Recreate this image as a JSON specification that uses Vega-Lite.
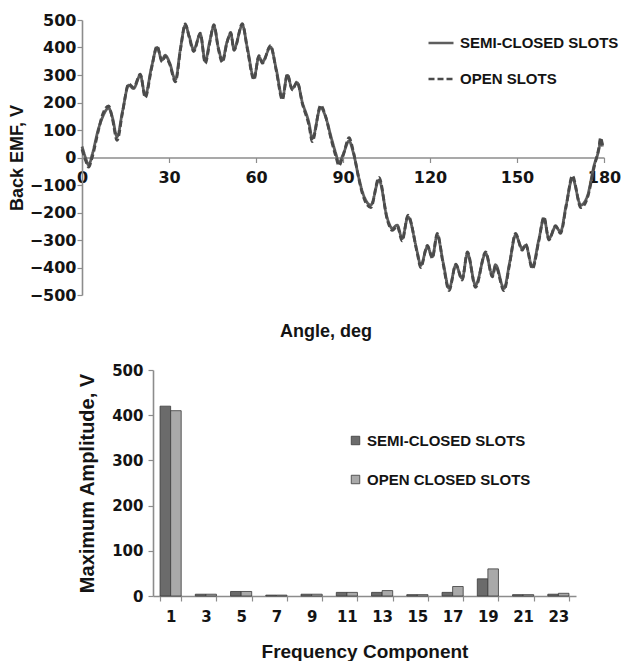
{
  "$schema": "https://vega.github.io/schema/vega-lite/v6.json",
  "background": "white",
  "padding": {"left": 0, "top": 12, "right": 0, "bottom": 0},
  "config": {
    "view": {"stroke": null},
    "axis": {
      "grid": false,
      "domainColor": "#8c8c8c",
      "domainWidth": 1.6,
      "tickColor": "#8c8c8c",
      "tickWidth": 1.2,
      "labelFont": "DejaVu Sans",
      "labelFontWeight": "bold",
      "labelColor": "#141414",
      "titleFont": "Liberation Sans",
      "titleFontWeight": "bold",
      "titleColor": "#141414"
    },
    "legend": {
      "labelFont": "Liberation Sans",
      "labelFontWeight": "bold",
      "labelColor": "#141414",
      "labelFontSize": 15,
      "padding": 0,
      "labelLimit": 300
    }
  },
  "resolve": {
    "scale": {"color": "independent", "strokeDash": "independent"},
    "legend": {"color": "independent", "strokeDash": "independent"}
  },
  "spacing": 22,
  "vconcat": [
    {
      "spacing": 6,
      "hconcat": [
        {
          "width": 2,
          "height": 275,
          "data": {"values": []},
          "mark": "point",
          "encoding": {}
        },
        {
          "width": 522,
          "height": 275,
          "title": {
            "text": "Angle, deg",
            "orient": "bottom",
            "font": "Liberation Sans",
            "fontSize": 18,
            "fontWeight": "bold",
            "color": "#141414",
            "dx": -17,
            "offset": 20
          },
          "data": {
            "values": [
              {"angle": 0, "emf": 40, "slot": "SEMI-CLOSED SLOTS"},
              {"angle": 1.2, "emf": 0, "slot": "SEMI-CLOSED SLOTS"},
              {"angle": 2.3, "emf": -28, "slot": "SEMI-CLOSED SLOTS"},
              {"angle": 3.5, "emf": 10, "slot": "SEMI-CLOSED SLOTS"},
              {"angle": 5.7, "emf": 105, "slot": "SEMI-CLOSED SLOTS"},
              {"angle": 6.9, "emf": 142, "slot": "SEMI-CLOSED SLOTS"},
              {"angle": 9.2, "emf": 180, "slot": "SEMI-CLOSED SLOTS"},
              {"angle": 10.5, "emf": 145, "slot": "SEMI-CLOSED SLOTS"},
              {"angle": 12.1, "emf": 75, "slot": "SEMI-CLOSED SLOTS"},
              {"angle": 14, "emf": 170, "slot": "SEMI-CLOSED SLOTS"},
              {"angle": 16.1, "emf": 263, "slot": "SEMI-CLOSED SLOTS"},
              {"angle": 17.8, "emf": 251, "slot": "SEMI-CLOSED SLOTS"},
              {"angle": 20.1, "emf": 299, "slot": "SEMI-CLOSED SLOTS"},
              {"angle": 21.8, "emf": 227, "slot": "SEMI-CLOSED SLOTS"},
              {"angle": 24, "emf": 330, "slot": "SEMI-CLOSED SLOTS"},
              {"angle": 25.9, "emf": 400, "slot": "SEMI-CLOSED SLOTS"},
              {"angle": 27.6, "emf": 354, "slot": "SEMI-CLOSED SLOTS"},
              {"angle": 28.7, "emf": 372, "slot": "SEMI-CLOSED SLOTS"},
              {"angle": 30.2, "emf": 345, "slot": "SEMI-CLOSED SLOTS"},
              {"angle": 32.2, "emf": 283, "slot": "SEMI-CLOSED SLOTS"},
              {"angle": 34, "emf": 400, "slot": "SEMI-CLOSED SLOTS"},
              {"angle": 35.6, "emf": 481, "slot": "SEMI-CLOSED SLOTS"},
              {"angle": 37, "emf": 440, "slot": "SEMI-CLOSED SLOTS"},
              {"angle": 38.5, "emf": 392, "slot": "SEMI-CLOSED SLOTS"},
              {"angle": 40.8, "emf": 448, "slot": "SEMI-CLOSED SLOTS"},
              {"angle": 42.5, "emf": 350, "slot": "SEMI-CLOSED SLOTS"},
              {"angle": 44, "emf": 420, "slot": "SEMI-CLOSED SLOTS"},
              {"angle": 45.5, "emf": 477, "slot": "SEMI-CLOSED SLOTS"},
              {"angle": 47, "emf": 400, "slot": "SEMI-CLOSED SLOTS"},
              {"angle": 48.4, "emf": 354, "slot": "SEMI-CLOSED SLOTS"},
              {"angle": 50, "emf": 420, "slot": "SEMI-CLOSED SLOTS"},
              {"angle": 51.3, "emf": 450, "slot": "SEMI-CLOSED SLOTS"},
              {"angle": 52.4, "emf": 395, "slot": "SEMI-CLOSED SLOTS"},
              {"angle": 55.3, "emf": 481, "slot": "SEMI-CLOSED SLOTS"},
              {"angle": 57, "emf": 400, "slot": "SEMI-CLOSED SLOTS"},
              {"angle": 59.3, "emf": 290, "slot": "SEMI-CLOSED SLOTS"},
              {"angle": 61, "emf": 366, "slot": "SEMI-CLOSED SLOTS"},
              {"angle": 62.2, "emf": 348, "slot": "SEMI-CLOSED SLOTS"},
              {"angle": 65, "emf": 402, "slot": "SEMI-CLOSED SLOTS"},
              {"angle": 67, "emf": 320, "slot": "SEMI-CLOSED SLOTS"},
              {"angle": 69.1, "emf": 218, "slot": "SEMI-CLOSED SLOTS"},
              {"angle": 70.8, "emf": 299, "slot": "SEMI-CLOSED SLOTS"},
              {"angle": 72.5, "emf": 251, "slot": "SEMI-CLOSED SLOTS"},
              {"angle": 74.2, "emf": 272, "slot": "SEMI-CLOSED SLOTS"},
              {"angle": 76, "emf": 200, "slot": "SEMI-CLOSED SLOTS"},
              {"angle": 78.3, "emf": 124, "slot": "SEMI-CLOSED SLOTS"},
              {"angle": 79.4, "emf": 69, "slot": "SEMI-CLOSED SLOTS"},
              {"angle": 82.3, "emf": 182, "slot": "SEMI-CLOSED SLOTS"},
              {"angle": 84, "emf": 148, "slot": "SEMI-CLOSED SLOTS"},
              {"angle": 86, "emf": 70, "slot": "SEMI-CLOSED SLOTS"},
              {"angle": 87.5, "emf": 15, "slot": "SEMI-CLOSED SLOTS"},
              {"angle": 88.6, "emf": -20, "slot": "SEMI-CLOSED SLOTS"},
              {"angle": 90, "emf": 10, "slot": "SEMI-CLOSED SLOTS"},
              {"angle": 92.1, "emf": 60, "slot": "SEMI-CLOSED SLOTS"},
              {"angle": 93.5, "emf": 20, "slot": "SEMI-CLOSED SLOTS"},
              {"angle": 95.5, "emf": -76, "slot": "SEMI-CLOSED SLOTS"},
              {"angle": 96.7, "emf": -125, "slot": "SEMI-CLOSED SLOTS"},
              {"angle": 99.6, "emf": -173, "slot": "SEMI-CLOSED SLOTS"},
              {"angle": 102.4, "emf": -82, "slot": "SEMI-CLOSED SLOTS"},
              {"angle": 105.3, "emf": -222, "slot": "SEMI-CLOSED SLOTS"},
              {"angle": 107, "emf": -258, "slot": "SEMI-CLOSED SLOTS"},
              {"angle": 108.7, "emf": -246, "slot": "SEMI-CLOSED SLOTS"},
              {"angle": 110.4, "emf": -295, "slot": "SEMI-CLOSED SLOTS"},
              {"angle": 112.4, "emf": -216, "slot": "SEMI-CLOSED SLOTS"},
              {"angle": 115.6, "emf": -343, "slot": "SEMI-CLOSED SLOTS"},
              {"angle": 116.8, "emf": -392, "slot": "SEMI-CLOSED SLOTS"},
              {"angle": 119.1, "emf": -325, "slot": "SEMI-CLOSED SLOTS"},
              {"angle": 120.8, "emf": -361, "slot": "SEMI-CLOSED SLOTS"},
              {"angle": 122.5, "emf": -282, "slot": "SEMI-CLOSED SLOTS"},
              {"angle": 124.5, "emf": -380, "slot": "SEMI-CLOSED SLOTS"},
              {"angle": 126.6, "emf": -476, "slot": "SEMI-CLOSED SLOTS"},
              {"angle": 128.9, "emf": -392, "slot": "SEMI-CLOSED SLOTS"},
              {"angle": 131.1, "emf": -440, "slot": "SEMI-CLOSED SLOTS"},
              {"angle": 132.9, "emf": -349, "slot": "SEMI-CLOSED SLOTS"},
              {"angle": 135.7, "emf": -464, "slot": "SEMI-CLOSED SLOTS"},
              {"angle": 139.2, "emf": -349, "slot": "SEMI-CLOSED SLOTS"},
              {"angle": 141.5, "emf": -428, "slot": "SEMI-CLOSED SLOTS"},
              {"angle": 142.6, "emf": -390, "slot": "SEMI-CLOSED SLOTS"},
              {"angle": 145.5, "emf": -476, "slot": "SEMI-CLOSED SLOTS"},
              {"angle": 147.5, "emf": -380, "slot": "SEMI-CLOSED SLOTS"},
              {"angle": 149.5, "emf": -282, "slot": "SEMI-CLOSED SLOTS"},
              {"angle": 151.8, "emf": -331, "slot": "SEMI-CLOSED SLOTS"},
              {"angle": 153, "emf": -319, "slot": "SEMI-CLOSED SLOTS"},
              {"angle": 155.3, "emf": -398, "slot": "SEMI-CLOSED SLOTS"},
              {"angle": 157.5, "emf": -300, "slot": "SEMI-CLOSED SLOTS"},
              {"angle": 159.3, "emf": -222, "slot": "SEMI-CLOSED SLOTS"},
              {"angle": 161, "emf": -295, "slot": "SEMI-CLOSED SLOTS"},
              {"angle": 163.3, "emf": -252, "slot": "SEMI-CLOSED SLOTS"},
              {"angle": 165, "emf": -270, "slot": "SEMI-CLOSED SLOTS"},
              {"angle": 167, "emf": -170, "slot": "SEMI-CLOSED SLOTS"},
              {"angle": 169.1, "emf": -76, "slot": "SEMI-CLOSED SLOTS"},
              {"angle": 172, "emf": -173, "slot": "SEMI-CLOSED SLOTS"},
              {"angle": 174.2, "emf": -143, "slot": "SEMI-CLOSED SLOTS"},
              {"angle": 176.6, "emf": -28, "slot": "SEMI-CLOSED SLOTS"},
              {"angle": 178.3, "emf": 33, "slot": "SEMI-CLOSED SLOTS"},
              {"angle": 178.8, "emf": 63, "slot": "SEMI-CLOSED SLOTS"},
              {"angle": 179.5, "emf": 40, "slot": "SEMI-CLOSED SLOTS"},
              {"angle": 0, "emf": 30, "slot": "OPEN SLOTS"},
              {"angle": 1.2, "emf": -10, "slot": "OPEN SLOTS"},
              {"angle": 2.3, "emf": -35, "slot": "OPEN SLOTS"},
              {"angle": 3.5, "emf": 0, "slot": "OPEN SLOTS"},
              {"angle": 5.7, "emf": 100, "slot": "OPEN SLOTS"},
              {"angle": 6.9, "emf": 150, "slot": "OPEN SLOTS"},
              {"angle": 9.2, "emf": 188, "slot": "OPEN SLOTS"},
              {"angle": 10.5, "emf": 140, "slot": "OPEN SLOTS"},
              {"angle": 12.1, "emf": 62, "slot": "OPEN SLOTS"},
              {"angle": 14, "emf": 165, "slot": "OPEN SLOTS"},
              {"angle": 16.1, "emf": 268, "slot": "OPEN SLOTS"},
              {"angle": 17.8, "emf": 255, "slot": "OPEN SLOTS"},
              {"angle": 20.1, "emf": 303, "slot": "OPEN SLOTS"},
              {"angle": 21.8, "emf": 218, "slot": "OPEN SLOTS"},
              {"angle": 24, "emf": 325, "slot": "OPEN SLOTS"},
              {"angle": 25.9, "emf": 405, "slot": "OPEN SLOTS"},
              {"angle": 27.6, "emf": 348, "slot": "OPEN SLOTS"},
              {"angle": 28.7, "emf": 368, "slot": "OPEN SLOTS"},
              {"angle": 30.2, "emf": 340, "slot": "OPEN SLOTS"},
              {"angle": 32.2, "emf": 275, "slot": "OPEN SLOTS"},
              {"angle": 34, "emf": 395, "slot": "OPEN SLOTS"},
              {"angle": 35.6, "emf": 486, "slot": "OPEN SLOTS"},
              {"angle": 37, "emf": 436, "slot": "OPEN SLOTS"},
              {"angle": 38.5, "emf": 385, "slot": "OPEN SLOTS"},
              {"angle": 40.8, "emf": 452, "slot": "OPEN SLOTS"},
              {"angle": 42.5, "emf": 342, "slot": "OPEN SLOTS"},
              {"angle": 44, "emf": 415, "slot": "OPEN SLOTS"},
              {"angle": 45.5, "emf": 483, "slot": "OPEN SLOTS"},
              {"angle": 47, "emf": 395, "slot": "OPEN SLOTS"},
              {"angle": 48.4, "emf": 346, "slot": "OPEN SLOTS"},
              {"angle": 50, "emf": 418, "slot": "OPEN SLOTS"},
              {"angle": 51.3, "emf": 455, "slot": "OPEN SLOTS"},
              {"angle": 52.4, "emf": 390, "slot": "OPEN SLOTS"},
              {"angle": 55.3, "emf": 487, "slot": "OPEN SLOTS"},
              {"angle": 57, "emf": 395, "slot": "OPEN SLOTS"},
              {"angle": 59.3, "emf": 283, "slot": "OPEN SLOTS"},
              {"angle": 61, "emf": 370, "slot": "OPEN SLOTS"},
              {"angle": 62.2, "emf": 343, "slot": "OPEN SLOTS"},
              {"angle": 65, "emf": 407, "slot": "OPEN SLOTS"},
              {"angle": 67, "emf": 315, "slot": "OPEN SLOTS"},
              {"angle": 69.1, "emf": 210, "slot": "OPEN SLOTS"},
              {"angle": 70.8, "emf": 303, "slot": "OPEN SLOTS"},
              {"angle": 72.5, "emf": 246, "slot": "OPEN SLOTS"},
              {"angle": 74.2, "emf": 276, "slot": "OPEN SLOTS"},
              {"angle": 76, "emf": 195, "slot": "OPEN SLOTS"},
              {"angle": 78.3, "emf": 115, "slot": "OPEN SLOTS"},
              {"angle": 79.4, "emf": 58, "slot": "OPEN SLOTS"},
              {"angle": 82.3, "emf": 190, "slot": "OPEN SLOTS"},
              {"angle": 84, "emf": 150, "slot": "OPEN SLOTS"},
              {"angle": 86, "emf": 62, "slot": "OPEN SLOTS"},
              {"angle": 87.5, "emf": 5, "slot": "OPEN SLOTS"},
              {"angle": 88.6, "emf": -30, "slot": "OPEN SLOTS"},
              {"angle": 90, "emf": 5, "slot": "OPEN SLOTS"},
              {"angle": 92.1, "emf": 72, "slot": "OPEN SLOTS"},
              {"angle": 93.5, "emf": 25, "slot": "OPEN SLOTS"},
              {"angle": 95.5, "emf": -80, "slot": "OPEN SLOTS"},
              {"angle": 96.7, "emf": -132, "slot": "OPEN SLOTS"},
              {"angle": 99.6, "emf": -182, "slot": "OPEN SLOTS"},
              {"angle": 102.4, "emf": -72, "slot": "OPEN SLOTS"},
              {"angle": 105.3, "emf": -228, "slot": "OPEN SLOTS"},
              {"angle": 107, "emf": -265, "slot": "OPEN SLOTS"},
              {"angle": 108.7, "emf": -250, "slot": "OPEN SLOTS"},
              {"angle": 110.4, "emf": -303, "slot": "OPEN SLOTS"},
              {"angle": 112.4, "emf": -210, "slot": "OPEN SLOTS"},
              {"angle": 115.6, "emf": -348, "slot": "OPEN SLOTS"},
              {"angle": 116.8, "emf": -400, "slot": "OPEN SLOTS"},
              {"angle": 119.1, "emf": -320, "slot": "OPEN SLOTS"},
              {"angle": 120.8, "emf": -366, "slot": "OPEN SLOTS"},
              {"angle": 122.5, "emf": -276, "slot": "OPEN SLOTS"},
              {"angle": 124.5, "emf": -385, "slot": "OPEN SLOTS"},
              {"angle": 126.6, "emf": -484, "slot": "OPEN SLOTS"},
              {"angle": 128.9, "emf": -388, "slot": "OPEN SLOTS"},
              {"angle": 131.1, "emf": -446, "slot": "OPEN SLOTS"},
              {"angle": 132.9, "emf": -343, "slot": "OPEN SLOTS"},
              {"angle": 135.7, "emf": -472, "slot": "OPEN SLOTS"},
              {"angle": 139.2, "emf": -343, "slot": "OPEN SLOTS"},
              {"angle": 141.5, "emf": -434, "slot": "OPEN SLOTS"},
              {"angle": 142.6, "emf": -395, "slot": "OPEN SLOTS"},
              {"angle": 145.5, "emf": -484, "slot": "OPEN SLOTS"},
              {"angle": 147.5, "emf": -385, "slot": "OPEN SLOTS"},
              {"angle": 149.5, "emf": -276, "slot": "OPEN SLOTS"},
              {"angle": 151.8, "emf": -337, "slot": "OPEN SLOTS"},
              {"angle": 153, "emf": -315, "slot": "OPEN SLOTS"},
              {"angle": 155.3, "emf": -405, "slot": "OPEN SLOTS"},
              {"angle": 157.5, "emf": -305, "slot": "OPEN SLOTS"},
              {"angle": 159.3, "emf": -216, "slot": "OPEN SLOTS"},
              {"angle": 161, "emf": -300, "slot": "OPEN SLOTS"},
              {"angle": 163.3, "emf": -248, "slot": "OPEN SLOTS"},
              {"angle": 165, "emf": -276, "slot": "OPEN SLOTS"},
              {"angle": 167, "emf": -175, "slot": "OPEN SLOTS"},
              {"angle": 169.1, "emf": -66, "slot": "OPEN SLOTS"},
              {"angle": 172, "emf": -182, "slot": "OPEN SLOTS"},
              {"angle": 174.2, "emf": -150, "slot": "OPEN SLOTS"},
              {"angle": 176.6, "emf": -35, "slot": "OPEN SLOTS"},
              {"angle": 178.3, "emf": 40, "slot": "OPEN SLOTS"},
              {"angle": 178.8, "emf": 72, "slot": "OPEN SLOTS"},
              {"angle": 179.5, "emf": 45, "slot": "OPEN SLOTS"}
            ]
          },
          "mark": {"type": "line", "interpolate": "monotone", "strokeWidth": 2.8},
          "encoding": {
            "x": {
              "field": "angle",
              "type": "quantitative",
              "scale": {"domain": [0, 180], "nice": false},
              "axis": {
                "values": [0, 30, 60, 90, 120, 150, 180],
                "offset": -137.5,
                "title": null,
                "labelFontSize": 16,
                "labelPadding": 7,
                "tickSize": 5,
                "labelFlush": false,
                "labelOverlap": false,
                "labelBound": false
              }
            },
            "y": {
              "field": "emf",
              "type": "quantitative",
              "scale": {"domain": [-500, 500], "nice": false},
              "axis": {
                "values": [-500, -400, -300, -200, -100, 0, 100, 200, 300, 400, 500],
                "title": "Back EMF, V",
                "titleFontSize": 18,
                "titlePadding": 3,
                "labelFontSize": 16,
                "labelPadding": 1,
                "tickSize": 5
              }
            },
            "color": {
              "field": "slot",
              "type": "nominal",
              "scale": {"domain": ["SEMI-CLOSED SLOTS", "OPEN SLOTS"], "range": ["#5e5e5e", "#4a4a4a"]},
              "legend": {
                "title": null,
                "orient": "none",
                "legendX": 427,
                "legendY": 9,
                "symbolType": "stroke",
                "symbolSize": 625,
                "symbolStrokeWidth": 2.5,
                "rowPadding": 14,
                "labelOffset": 5,
                "labelFontWeight": "bold"
              }
            },
            "strokeDash": {
              "field": "slot",
              "type": "nominal",
              "scale": {"domain": ["SEMI-CLOSED SLOTS", "OPEN SLOTS"], "range": [[1, 0], [6, 3]]},
              "legend": {
                "title": null,
                "orient": "none",
                "legendX": 427,
                "legendY": 9,
                "symbolType": "stroke",
                "symbolSize": 625,
                "symbolStrokeWidth": 2.5,
                "rowPadding": 14,
                "labelOffset": 5,
                "labelFontWeight": "bold"
              }
            }
          }
        }
      ]
    },
    {
      "spacing": 15,
      "hconcat": [
        {
          "width": 62,
          "height": 226,
          "data": {"values": []},
          "mark": "point",
          "encoding": {}
        },
        {
          "width": 423,
          "height": 226,
          "data": {
            "values": [
              {"harmonic": 1, "design": "SEMI-CLOSED SLOTS", "amp": 420},
              {"harmonic": 1, "design": "OPEN CLOSED SLOTS", "amp": 410},
              {"harmonic": 3, "design": "SEMI-CLOSED SLOTS", "amp": 4},
              {"harmonic": 3, "design": "OPEN CLOSED SLOTS", "amp": 4},
              {"harmonic": 5, "design": "SEMI-CLOSED SLOTS", "amp": 10},
              {"harmonic": 5, "design": "OPEN CLOSED SLOTS", "amp": 10},
              {"harmonic": 7, "design": "SEMI-CLOSED SLOTS", "amp": 2},
              {"harmonic": 7, "design": "OPEN CLOSED SLOTS", "amp": 2},
              {"harmonic": 9, "design": "SEMI-CLOSED SLOTS", "amp": 4},
              {"harmonic": 9, "design": "OPEN CLOSED SLOTS", "amp": 4},
              {"harmonic": 11, "design": "SEMI-CLOSED SLOTS", "amp": 8},
              {"harmonic": 11, "design": "OPEN CLOSED SLOTS", "amp": 8},
              {"harmonic": 13, "design": "SEMI-CLOSED SLOTS", "amp": 8},
              {"harmonic": 13, "design": "OPEN CLOSED SLOTS", "amp": 12},
              {"harmonic": 15, "design": "SEMI-CLOSED SLOTS", "amp": 3},
              {"harmonic": 15, "design": "OPEN CLOSED SLOTS", "amp": 3},
              {"harmonic": 17, "design": "SEMI-CLOSED SLOTS", "amp": 8},
              {"harmonic": 17, "design": "OPEN CLOSED SLOTS", "amp": 21},
              {"harmonic": 19, "design": "SEMI-CLOSED SLOTS", "amp": 38},
              {"harmonic": 19, "design": "OPEN CLOSED SLOTS", "amp": 60},
              {"harmonic": 21, "design": "SEMI-CLOSED SLOTS", "amp": 3},
              {"harmonic": 21, "design": "OPEN CLOSED SLOTS", "amp": 3},
              {"harmonic": 23, "design": "SEMI-CLOSED SLOTS", "amp": 4},
              {"harmonic": 23, "design": "OPEN CLOSED SLOTS", "amp": 6}
            ]
          },
          "mark": {"type": "bar", "stroke": "#3a3a3a", "strokeWidth": 0.8},
          "encoding": {
            "x": {
              "field": "harmonic",
              "type": "ordinal",
              "scale": {"paddingInner": 0.4, "paddingOuter": 0.2},
              "axis": {
                "title": "Frequency Component",
                "titleFontSize": 19,
                "titlePadding": 18,
                "labelAngle": 0,
                "labelFontSize": 15,
                "labelPadding": 8,
                "tickSize": 5,
                "tickBand": "extent"
              }
            },
            "xOffset": {
              "field": "design",
              "type": "nominal",
              "scale": {"domain": ["SEMI-CLOSED SLOTS", "OPEN CLOSED SLOTS"]}
            },
            "y": {
              "field": "amp",
              "type": "quantitative",
              "scale": {"domain": [0, 500], "nice": false},
              "axis": {
                "values": [0, 100, 200, 300, 400, 500],
                "title": "Maximum Amplitude, V",
                "titleFontSize": 20,
                "titlePadding": 14,
                "labelFontSize": 15,
                "labelPadding": 5,
                "tickSize": 5
              }
            },
            "color": {
              "field": "design",
              "type": "nominal",
              "scale": {"domain": ["SEMI-CLOSED SLOTS", "OPEN CLOSED SLOTS"], "range": ["#6b6b6b", "#a9a9a9"]},
              "legend": {
                "title": null,
                "orient": "none",
                "legendX": 348,
                "legendY": 63,
                "symbolType": "square",
                "symbolSize": 72,
                "symbolStrokeColor": "#3a3a3a",
                "symbolStrokeWidth": 0.8,
                "rowPadding": 23,
                "labelOffset": 4,
                "labelFontWeight": "bold"
              }
            }
          }
        }
      ]
    }
  ]
}
